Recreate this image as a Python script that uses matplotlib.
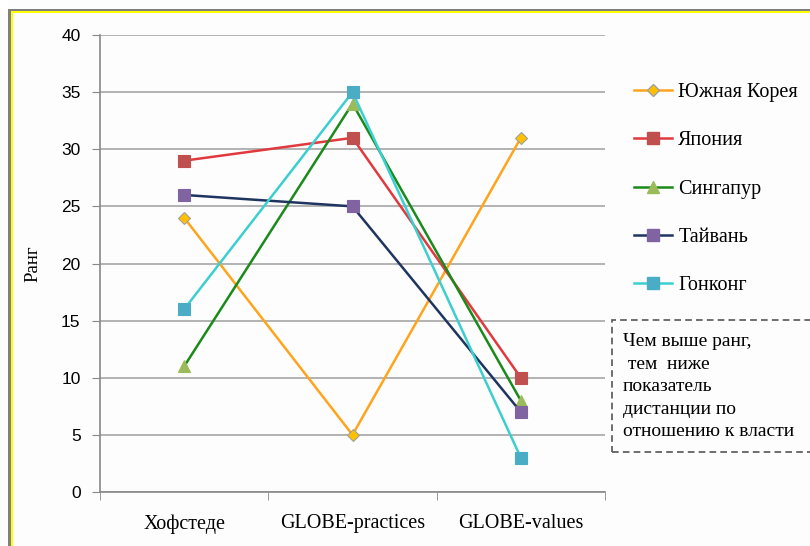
import matplotlib
matplotlib.use("Agg")
import matplotlib.pyplot as plt
from matplotlib.patches import Rectangle
from matplotlib.lines import Line2D

categories = ["Хофстеде", "GLOBE-practices", "GLOBE-values"]
countries = ["Южная Корея", "Япония", "Сингапур", "Тайвань", "Гонконг"]
korea = [24, 5, 31]
japan = [29, 31, 10]
singapore = [11, 34, 8]
taiwan = [26, 25, 7]
hongkong = [16, 35, 3]
yticks = [0, 5, 10, 15, 20, 25, 30, 35, 40]

series = [korea, japan, singapore, taiwan, hongkong]
line_colors = ["#FFA41C", "#E0393E", "#1A8A1A", "#1F3560", "#3CCFD0"]
marker_faces = ["#FFC000", "#C0504D", "#9BBB59", "#8064A2", "#4BACC6"]
markers = ["D", "s", "^", "s", "s"]
msizes = [6.5, 9, 9, 9, 9]

serif = "Liberation Serif"
sans = "Liberation Sans"

fig = plt.figure(figsize=(8.1, 5.46), dpi=100)
fig.patch.set_facecolor("#FDFDFD")

ax = fig.add_axes([100 / 810, 1 - 492 / 546, 505 / 810, 457 / 546])
ax.set_facecolor("#FDFDFD")

x = range(len(categories))
for vals, lc, mf, mk, ms, name in zip(series, line_colors, marker_faces, markers, msizes, countries):
    ax.plot(x, vals, color=lc, lw=1.8, marker=mk, markersize=ms,
            markerfacecolor=mf, markeredgecolor=mf if mk != "D" else "#A0A0A0",
            markeredgewidth=0.8, label=name, zorder=3)

ax.set_xlim(-0.5, 2.5)
ax.set_ylim(0, 40)
ax.set_yticks(yticks)
ax.set_yticklabels([str(t) for t in yticks], family=sans, fontsize=12.5)
ax.set_xticks(list(x))
ax.set_xticklabels(categories, family=serif, fontsize=14.5)
ax.tick_params(axis="x", length=0, pad=16)
ax.tick_params(axis="y", length=6, color="#888888", pad=8)
# category boundary ticks on the x axis
ax.set_xticks([-0.5, 0.5, 1.5, 2.5], minor=True)
ax.tick_params(axis="x", which="minor", length=6, color="#888888")

ax.grid(axis="y", color="#A6A6A6", lw=1.2)
for s in ["top", "right"]:
    ax.spines[s].set_visible(False)
ax.spines["left"].set_color("#888888")
ax.spines["bottom"].set_color("#888888")
ax.spines["left"].set_linewidth(1.2)
ax.spines["bottom"].set_linewidth(1.2)
ax.set_ylabel("Ранг", family=serif, fontsize=13.5, labelpad=14)

leg_handles = [Line2D([0], [0], color=lc, lw=1.8, marker=mk, markersize=ms,
                      markerfacecolor=mf, markeredgecolor=mf if mk != "D" else "#A0A0A0")
               for lc, mf, mk, ms in zip(line_colors, marker_faces, markers, msizes)]
fig.legend(leg_handles, countries, loc="upper left", bbox_to_anchor=(626 / 810, 1 - 75 / 546),
           frameon=False, prop={"family": serif, "size": 14.5}, handlelength=1.9,
           labelspacing=1.45, handletextpad=0.3, borderaxespad=0)

# dashed note box
fig.patches.append(Rectangle((612 / 810, 1 - 452 / 546), 0.3, 132 / 546,
                             transform=fig.transFigure, fill=False,
                             edgecolor="#555555", lw=1.2, ls=(0, (4, 2.5))))
note = "Чем выше ранг,\n тем  ниже\nпоказатель\nдистанции по\nотношению к власти"
fig.text(623 / 810, 1 - 333 / 546, note, family=serif, fontsize=14,
         va="top", ha="left", linespacing=1.43)

# window frame at top and left
fig.patches.append(Rectangle((0, 1 - 11 / 546), 1, 2 / 546, transform=fig.transFigure,
                             color="#7F7F7F", lw=0))
fig.patches.append(Rectangle((9 / 810, 1 - 13 / 546), 1, 2 / 546, transform=fig.transFigure,
                             color="#FFFF00", lw=0))
fig.patches.append(Rectangle((8 / 810, 0), 3 / 810, 1 - 11 / 546, transform=fig.transFigure,
                             color="#7F7F7F", lw=0))
fig.patches.append(Rectangle((11 / 810, 0), 2 / 810, 1 - 13 / 546, transform=fig.transFigure,
                             color="#FFFF00", lw=0))
fig.patches.append(Rectangle((0, 1 - 11 / 546), 8 / 810, 11 / 546, transform=fig.transFigure,
                             color="#FFFFFF", lw=0))

fig.savefig("out.png", dpi=100, facecolor=fig.get_facecolor())
